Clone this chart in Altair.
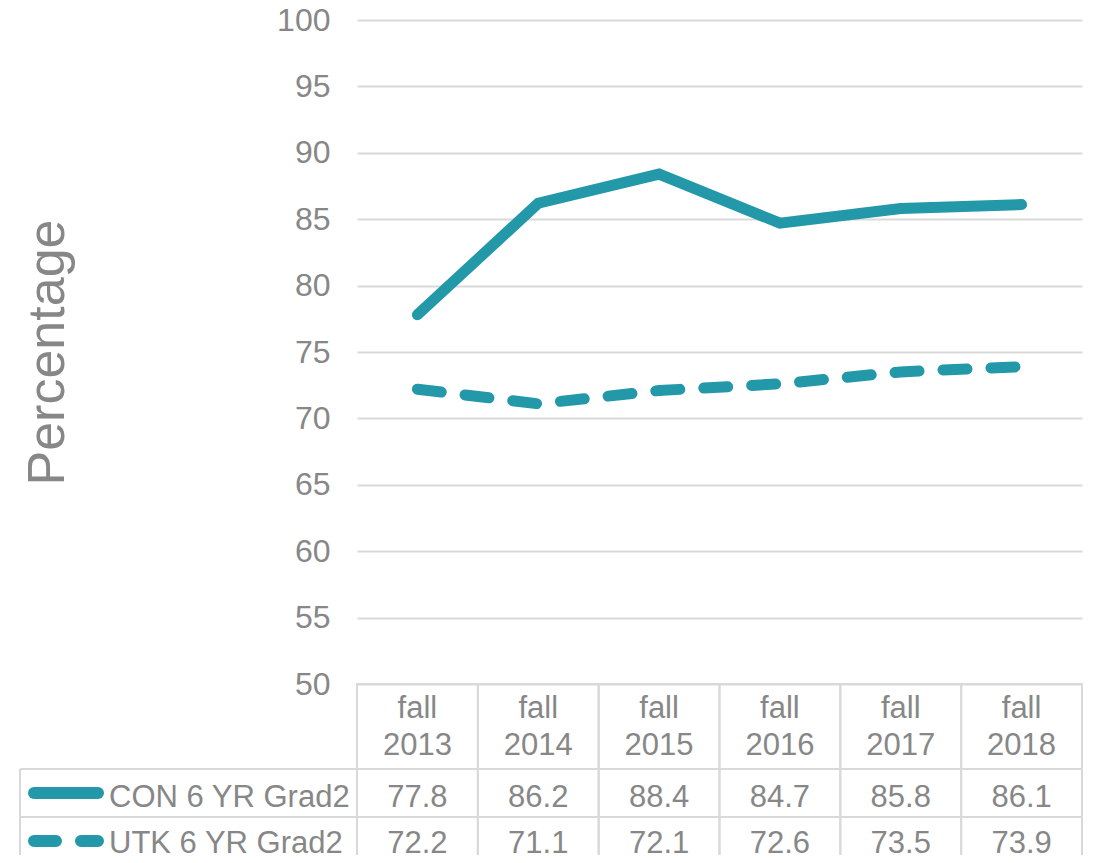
import altair as alt
import pandas as pd

categories = ["fall\n2013", "fall\n2014", "fall\n2015", "fall\n2016", "fall\n2017", "fall\n2018"]
series = ["CON 6 YR Grad2", "UTK 6 YR Grad2"]
con_values = [77.8, 86.2, 88.4, 84.7, 85.8, 86.1]
utk_values = [72.2, 71.1, 72.1, 72.6, 73.5, 73.9]
y_ticks = [50, 55, 60, 65, 70, 75, 80, 85, 90, 95, 100]

TEAL = "#2398a8"
GRAY = "#878787"
GRID = "#d9d9d9"
FONT = "Liberation Sans"
FS = 31

con_df = pd.DataFrame({"cat": categories, "value": con_values,
                       "label": [f"{v:.1f}" for v in con_values]})
utk_df = pd.DataFrame({"cat": categories, "value": utk_values,
                       "label": [f"{v:.1f}" for v in utk_values]})
cat_df = pd.DataFrame({"cat": categories})
con_lab = pd.DataFrame({"series": [series[0]]})
utk_lab = pd.DataFrame({"series": [series[1]]})

xscale = alt.Scale(type="band", domain=categories, paddingInner=0, paddingOuter=0)
yscale = alt.Scale(domain=[50, 100], nice=False, zero=False)

W, H = 725, 664
HEADER_BOTTOM = 749
ROW1_BOTTOM = 797
TABLE_BOTTOM = 850
TABLE_LEFT = -337

X = alt.X("cat:N", scale=xscale, axis=None)
yaxis = alt.Axis(values=y_ticks, domain=False, ticks=False, labelFontSize=32,
                 labelColor=GRAY, labelFont=FONT, labelPadding=27,
                 gridColor=GRID, gridWidth=2,
                 title="Percentage", titleFontSize=52, titleFont=FONT,
                 titleFontWeight="normal", titleColor=GRAY, titleAngle=270,
                 titleX=-294, titleY=332, titleAlign="center",
                 titleBaseline="alphabetic")

line_con = alt.Chart(con_df).mark_line(strokeWidth=11, strokeCap="round", color=TEAL).encode(
    x=X, y=alt.Y("value:Q", scale=yscale, axis=yaxis))
line_utk = alt.Chart(utk_df).mark_line(strokeWidth=11, strokeCap="round", color=TEAL,
                                       strokeDash=[24, 24]).encode(
    x=X, y=alt.Y("value:Q", scale=yscale))

# table column cells
cells = alt.Chart(cat_df).mark_rect(fillOpacity=0, stroke=GRID, strokeWidth=2).encode(
    x=X, y=alt.value(H), y2=alt.value(TABLE_BOTTOM))
vline_left = alt.Chart(con_lab).mark_rule(color=GRID, strokeWidth=2).encode(
    x=alt.value(TABLE_LEFT), y=alt.value(HEADER_BOTTOM), y2=alt.value(TABLE_BOTTOM))
hline1 = alt.Chart(con_lab).mark_rule(color=GRID, strokeWidth=2).encode(
    x=alt.value(TABLE_LEFT), x2=alt.value(W), y=alt.value(HEADER_BOTTOM))
hline2 = alt.Chart(con_lab).mark_rule(color=GRID, strokeWidth=2).encode(
    x=alt.value(TABLE_LEFT), x2=alt.value(W), y=alt.value(ROW1_BOTTOM))

header = alt.Chart(cat_df).mark_text(fontSize=FS, font=FONT, color=GRAY, lineBreak="\n",
                                     lineHeight=37, baseline="middle", align="center").encode(
    x=X, y=alt.value(689), text="cat:N")

val1 = alt.Chart(con_df).mark_text(fontSize=FS, font=FONT, color=GRAY,
                                   baseline="alphabetic", align="center").encode(
    x=X, y=alt.value(787), text="label:N")
val2 = alt.Chart(utk_df).mark_text(fontSize=FS, font=FONT, color=GRAY,
                                   baseline="alphabetic", align="center").encode(
    x=X, y=alt.value(833), text="label:N")

lab1 = alt.Chart(con_lab).mark_text(fontSize=FS, font=FONT, color=GRAY, align="left",
                                    baseline="alphabetic").encode(
    x=alt.value(-248), y=alt.value(787), text="series:N")
lab2 = alt.Chart(utk_lab).mark_text(fontSize=FS, font=FONT, color=GRAY, align="left",
                                    baseline="alphabetic").encode(
    x=alt.value(-248), y=alt.value(833), text="series:N")

sym1 = alt.Chart(con_lab).mark_rule(color=TEAL, strokeWidth=12, strokeCap="round").encode(
    x=alt.value(-323), x2=alt.value(-259), y=alt.value(773))
sym2 = alt.Chart(utk_lab).mark_rule(color=TEAL, strokeWidth=12, strokeCap="round",
                                    strokeDash=[22, 25]).encode(
    x=alt.value(-323), x2=alt.value(-259), y=alt.value(821))

chart = alt.layer(
    cells, vline_left, hline1, hline2,
    header, val1, val2, lab1, lab2, sym1, sym2, line_con, line_utk,
).properties(
    width=W, height=H,
    autosize=alt.AutoSizeParams(type="none"),
    padding={"left": 349, "top": 12, "right": 7, "bottom": 171},
).configure_view(stroke=None)

chart.save("out.html", embed_options={"renderer": "svg", "actions": False})
